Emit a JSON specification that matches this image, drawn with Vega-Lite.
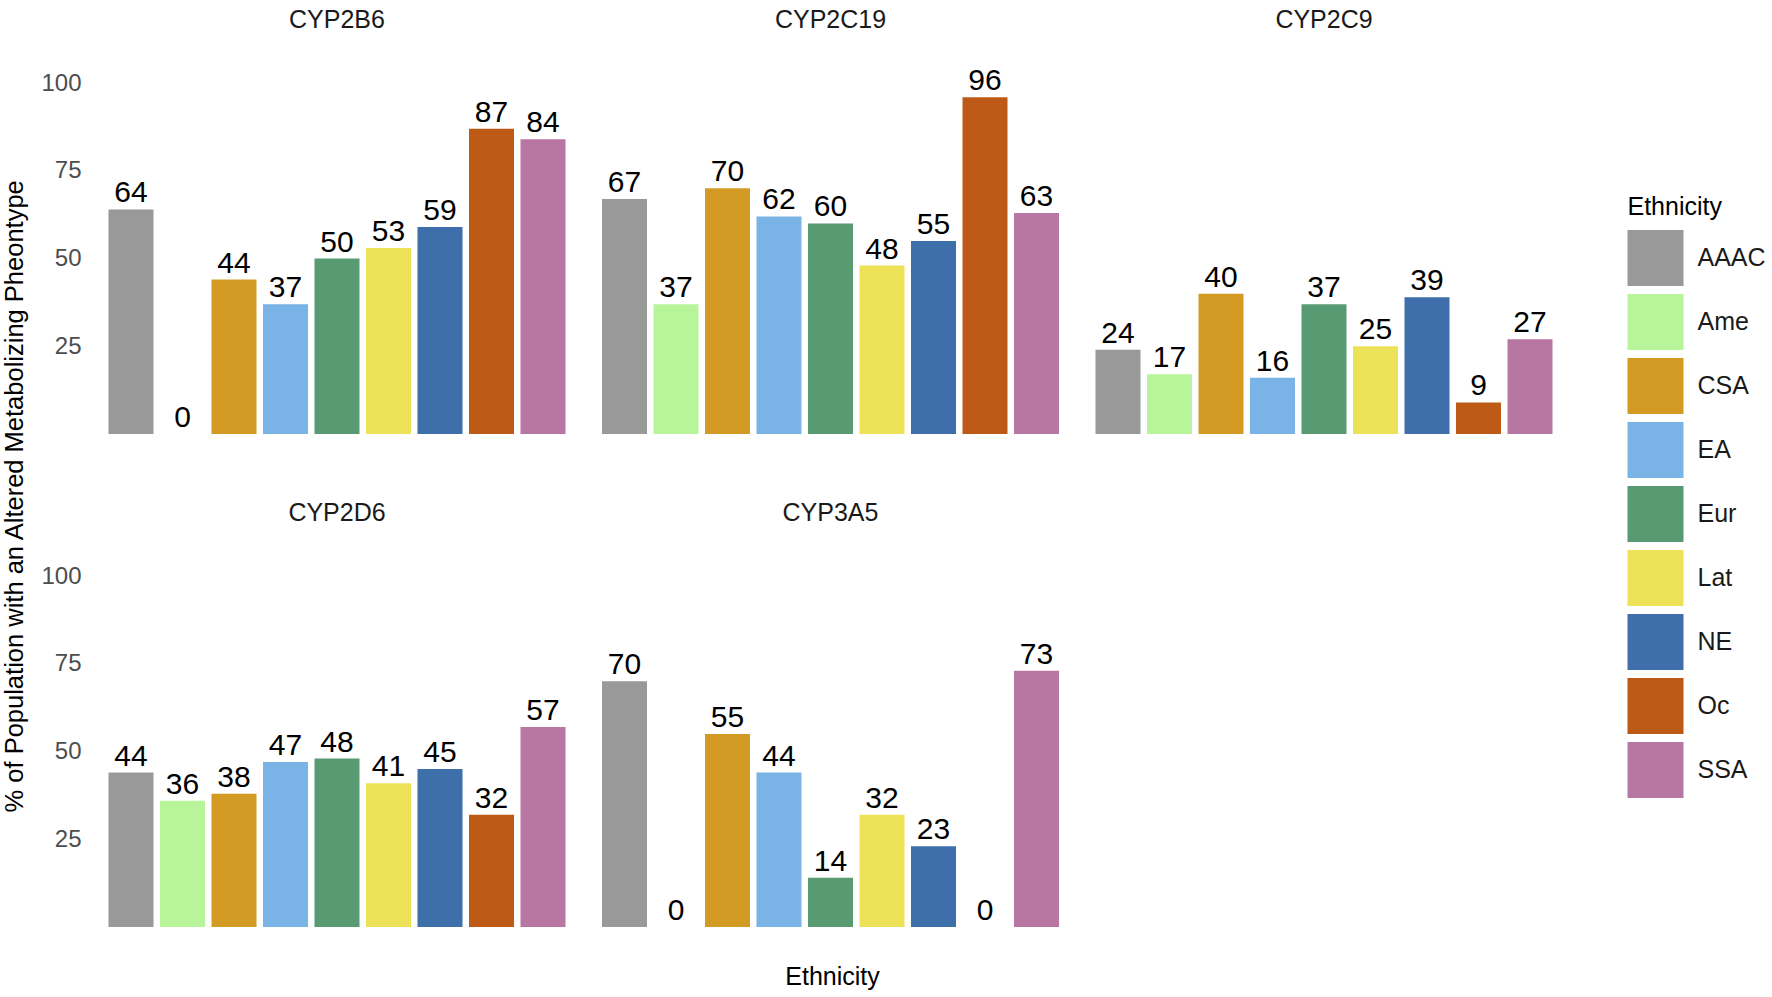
{
  "$schema": "https://vega.github.io/schema/vega-lite/v6.json",
  "padding": {"left": 2, "top": 8, "right": 5, "bottom": 5},
  "title": {
    "text": "Ethnicity",
    "orient": "bottom",
    "anchor": "middle",
    "dx": -52,
    "fontSize": 25,
    "fontWeight": "normal",
    "color": "#000000",
    "offset": 38
  },
  "data": {
    "values": [
      {"gene": "CYP2B6", "ethnicity": "AAAC", "pct": 64},
      {"gene": "CYP2B6", "ethnicity": "Ame", "pct": 0},
      {"gene": "CYP2B6", "ethnicity": "CSA", "pct": 44},
      {"gene": "CYP2B6", "ethnicity": "EA", "pct": 37},
      {"gene": "CYP2B6", "ethnicity": "Eur", "pct": 50},
      {"gene": "CYP2B6", "ethnicity": "Lat", "pct": 53},
      {"gene": "CYP2B6", "ethnicity": "NE", "pct": 59},
      {"gene": "CYP2B6", "ethnicity": "Oc", "pct": 87},
      {"gene": "CYP2B6", "ethnicity": "SSA", "pct": 84},
      {"gene": "CYP2C19", "ethnicity": "AAAC", "pct": 67},
      {"gene": "CYP2C19", "ethnicity": "Ame", "pct": 37},
      {"gene": "CYP2C19", "ethnicity": "CSA", "pct": 70},
      {"gene": "CYP2C19", "ethnicity": "EA", "pct": 62},
      {"gene": "CYP2C19", "ethnicity": "Eur", "pct": 60},
      {"gene": "CYP2C19", "ethnicity": "Lat", "pct": 48},
      {"gene": "CYP2C19", "ethnicity": "NE", "pct": 55},
      {"gene": "CYP2C19", "ethnicity": "Oc", "pct": 96},
      {"gene": "CYP2C19", "ethnicity": "SSA", "pct": 63},
      {"gene": "CYP2C9", "ethnicity": "AAAC", "pct": 24},
      {"gene": "CYP2C9", "ethnicity": "Ame", "pct": 17},
      {"gene": "CYP2C9", "ethnicity": "CSA", "pct": 40},
      {"gene": "CYP2C9", "ethnicity": "EA", "pct": 16},
      {"gene": "CYP2C9", "ethnicity": "Eur", "pct": 37},
      {"gene": "CYP2C9", "ethnicity": "Lat", "pct": 25},
      {"gene": "CYP2C9", "ethnicity": "NE", "pct": 39},
      {"gene": "CYP2C9", "ethnicity": "Oc", "pct": 9},
      {"gene": "CYP2C9", "ethnicity": "SSA", "pct": 27},
      {"gene": "CYP2D6", "ethnicity": "AAAC", "pct": 44},
      {"gene": "CYP2D6", "ethnicity": "Ame", "pct": 36},
      {"gene": "CYP2D6", "ethnicity": "CSA", "pct": 38},
      {"gene": "CYP2D6", "ethnicity": "EA", "pct": 47},
      {"gene": "CYP2D6", "ethnicity": "Eur", "pct": 48},
      {"gene": "CYP2D6", "ethnicity": "Lat", "pct": 41},
      {"gene": "CYP2D6", "ethnicity": "NE", "pct": 45},
      {"gene": "CYP2D6", "ethnicity": "Oc", "pct": 32},
      {"gene": "CYP2D6", "ethnicity": "SSA", "pct": 57},
      {"gene": "CYP3A5", "ethnicity": "AAAC", "pct": 70},
      {"gene": "CYP3A5", "ethnicity": "Ame", "pct": 0},
      {"gene": "CYP3A5", "ethnicity": "CSA", "pct": 55},
      {"gene": "CYP3A5", "ethnicity": "EA", "pct": 44},
      {"gene": "CYP3A5", "ethnicity": "Eur", "pct": 14},
      {"gene": "CYP3A5", "ethnicity": "Lat", "pct": 32},
      {"gene": "CYP3A5", "ethnicity": "NE", "pct": 23},
      {"gene": "CYP3A5", "ethnicity": "Oc", "pct": 0},
      {"gene": "CYP3A5", "ethnicity": "SSA", "pct": 73}
    ]
  },
  "facet": {
    "field": "gene",
    "type": "nominal",
    "sort": ["CYP2B6", "CYP2C19", "CYP2C9", "CYP2D6", "CYP3A5"],
    "title": "% of Population with an Altered Metabolizing Pheontype\u00a0\u00a0\u00a0\u00a0\u00a0\u00a0\u00a0\u00a0\u200b",
    "header": {
      "labelOrient": "top",
      "labelFontSize": 25,
      "labelColor": "#1a1a1a",
      "labelPadding": 15,
      "titleOrient": "left",
      "titleFontSize": 25.5,
      "titleFontWeight": "normal",
      "titleColor": "#000000",
      "titlePadding": 12
    }
  },
  "columns": 3,
  "spacing": {"row": 67, "column": 23.5},
  "spec": {
    "width": 470,
    "height": 386,
    "encoding": {
      "x": {
        "field": "ethnicity",
        "type": "nominal",
        "scale": {"paddingInner": 0.126, "paddingOuter": 0.126},
        "axis": null
      },
      "y": {
        "field": "pct",
        "type": "quantitative",
        "scale": {"domain": [0, 110], "nice": false},
        "axis": {
          "title": null,
          "values": [25, 50, 75, 100],
          "grid": false,
          "domain": false,
          "ticks": false,
          "labelFontSize": 24,
          "labelColor": "#4d4d4d",
          "labelPadding": 21
        }
      }
    },
    "layer": [
      {
        "mark": {"type": "bar"},
        "encoding": {
          "color": {
            "field": "ethnicity",
            "type": "nominal",
            "title": "Ethnicity",
            "scale": {
              "domain": ["AAAC", "Ame", "CSA", "EA", "Eur", "Lat", "NE", "Oc", "SSA"],
              "range": ["#999999", "#b8f59a", "#d49b24", "#7ab3e5", "#589b73", "#ede257", "#3e6fab", "#bd5b16", "#b876a2"]
            },
            "legend": {
              "orient": "none",
              "legendX": 1525.5,
              "legendY": 147,
              "symbolType": "square",
              "symbolSize": 3136,
              "symbolStrokeWidth": 0,
              "symbolOpacity": 1,
              "labelFontSize": 25,
              "labelColor": "#1a1a1a",
              "labelOffset": 14,
              "rowPadding": 8,
              "titleFontSize": 25,
              "titleFontWeight": "normal",
              "titleColor": "#000000",
              "titlePadding": 10
            }
          }
        }
      },
      {
        "mark": {"type": "text", "baseline": "alphabetic", "dy": -7, "fontSize": 30, "color": "#000000"},
        "encoding": {"text": {"field": "pct", "type": "quantitative"}}
      }
    ]
  },
  "config": {
    "view": {"stroke": null},
    "font": "Liberation Sans"
  }
}
